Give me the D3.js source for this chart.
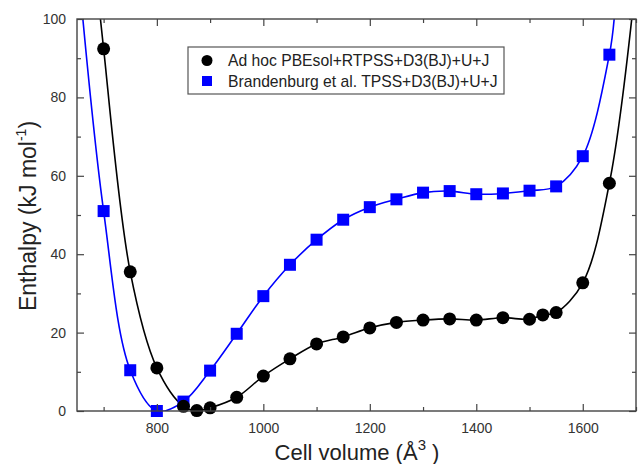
<!DOCTYPE html>
<html>
<head>
<meta charset="utf-8">
<script src="https://cdn.jsdelivr.net/npm/d3@7"></script>
<style>
    body { margin: 0; background: #fff; }
    text { font-family: "Liberation Sans", Arial, sans-serif; }
</style>
</head>
<body>
<div id="chart"></div>
<script>
// data
var volume_adhoc = [700, 750, 800, 850, 875, 900, 950, 1000, 1050, 1100, 1150, 1200, 1250, 1300, 1350, 1400, 1450, 1500, 1525, 1550, 1600, 1650];
var enthalpy_adhoc = [92.4, 35.5, 11, 1.2, 0.1, 0.8, 3.5, 8.9, 13.3, 17.1, 18.9, 21.2, 22.6, 23.2, 23.5, 23.2, 23.8, 23.4, 24.5, 25.1, 32.7, 58.1];
var volume_brand = [700, 750, 800, 850, 900, 950, 1000, 1050, 1100, 1150, 1200, 1250, 1300, 1350, 1400, 1450, 1500, 1550, 1600, 1650];
var enthalpy_brand = [51, 10.4, 0, 2.4, 10.3, 19.7, 29.3, 37.3, 43.7, 48.8, 52, 54, 55.7, 56.1, 55.3, 55.5, 56.2, 57.3, 65, 90.9];
// where the fitted curves leave the frame at the top
var curve_ends_adhoc = [[694, 100], [1692, 100]];
var curve_ends_brand = [[661, 100], [1659, 100]];
var legend_labels = ["Ad hoc PBEsol+RTPSS+D3(BJ)+U+J", "Brandenburg et al. TPSS+D3(BJ)+U+J"];
var x_ticks = [800, 1000, 1200, 1400, 1600];
var x_minor = [700, 900, 1100, 1300, 1500, 1700];
var y_ticks = [0, 20, 40, 60, 80, 100];
var y_minor = [10, 30, 50, 70, 90];

var draw_chart = {
    width: 638,
    height: 464,
    margin: { left: 77, right: 2, top: 19, bottom: 53 },
    view: 0,
    g: 0,
    x: 0,
    y: 0,
    initialize: function() {
        var self = this;
        self.view = d3.select("#chart").append("svg")
            .attr("width", self.width)
            .attr("height", self.height);
        self.w = self.width - self.margin.left - self.margin.right;
        self.h = self.height - self.margin.top - self.margin.bottom;
        self.g = self.view.append("g")
            .attr("transform", "translate(" + self.margin.left + "," + self.margin.top + ")");
        self.x = d3.scaleLinear().domain([650, 1700]).range([0, self.w]);
        self.y = d3.scaleLinear().domain([0, 100]).range([self.h, 0]);
    },
    draw_axes: function() {
        var self = this;
        var col = "#444";
        var bottom = self.g.append("g").attr("transform", "translate(0," + self.h + ")")
            .call(d3.axisBottom(self.x).tickValues(x_ticks).tickSize(-7).tickPadding(12).tickFormat(d3.format("d")));
        var bottomMinor = self.g.append("g").attr("transform", "translate(0," + self.h + ")")
            .call(d3.axisBottom(self.x).tickValues(x_minor).tickSize(-4).tickFormat(""));
        var top = self.g.append("g")
            .call(d3.axisTop(self.x).tickValues(x_ticks).tickSize(-7).tickFormat(""));
        var topMinor = self.g.append("g")
            .call(d3.axisTop(self.x).tickValues(x_minor).tickSize(-4).tickFormat(""));
        var left = self.g.append("g")
            .call(d3.axisLeft(self.y).tickValues(y_ticks).tickSize(-7).tickPadding(11));
        var leftMinor = self.g.append("g")
            .call(d3.axisLeft(self.y).tickValues(y_minor).tickSize(-4).tickFormat(""));
        var right = self.g.append("g").attr("transform", "translate(" + self.w + ",0)")
            .call(d3.axisRight(self.y).tickValues(y_ticks).tickSize(-7).tickFormat(""));
        var rightMinor = self.g.append("g").attr("transform", "translate(" + self.w + ",0)")
            .call(d3.axisRight(self.y).tickValues(y_minor).tickSize(-4).tickFormat(""));
        [bottom, bottomMinor, top, topMinor, left, leftMinor, right, rightMinor].forEach(function(a) {
            a.select(".domain").remove();
            a.selectAll("line").attr("stroke", col).attr("stroke-width", 1.2);
            a.selectAll("text").attr("fill", "#333").style("font-size", "14px")
                .style("font-family", "Liberation Sans, Arial, sans-serif");
        });
        self.g.append("rect")
            .attr("width", self.w).attr("height", self.h)
            .attr("fill", "none").attr("stroke", col).attr("stroke-width", 1.4);

        var xt = self.view.append("text")
            .attr("x", 357)
            .attr("y", 460)
            .attr("text-anchor", "middle")
            .attr("fill", "#222")
            .style("font-size", "22px");
        xt.append("tspan").text("Cell volume (Å");
        xt.append("tspan").attr("dy", -10).style("font-size", "15px").text("3");
        xt.append("tspan").attr("dy", 10).text(" )");

        var yt = self.view.append("text")
            .attr("transform", "translate(36,216) rotate(-90)")
            .attr("text-anchor", "middle")
            .attr("fill", "#222")
            .style("font-size", "23px");
        yt.append("tspan").text("Enthalpy (kJ mol");
        yt.append("tspan").attr("dy", -10).style("font-size", "14px").text("-1");
        yt.append("tspan").attr("dy", 10).text(")");
    },
    draw_series: function() {
        var self = this;
        self.view.append("defs").append("clipPath").attr("id", "clip")
            .append("rect").attr("width", self.w).attr("height", self.h);

        var adhoc = volume_adhoc.map(function(v, i) { return [v, enthalpy_adhoc[i]]; });
        var brand = volume_brand.map(function(v, i) { return [v, enthalpy_brand[i]]; });

        var line = d3.line()
            .x(function(d) { return self.x(d[0]); })
            .y(function(d) { return self.y(d[1]); })
            .curve(d3.curveCatmullRom.alpha(0.5));

        var curves = self.g.append("g").attr("clip-path", "url(#clip)");
        curves.append("path")
            .datum([curve_ends_brand[0]].concat(brand, [curve_ends_brand[1]]))
            .attr("d", line)
            .attr("fill", "none").attr("stroke", "#0000ff").attr("stroke-width", 1.6);
        curves.append("path")
            .datum([curve_ends_adhoc[0]].concat(adhoc, [curve_ends_adhoc[1]]))
            .attr("d", line)
            .attr("fill", "none").attr("stroke", "#000").attr("stroke-width", 1.6);

        self.g.append("g").selectAll("rect")
            .data(brand)
            .enter().append("rect")
            .attr("x", function(d) { return self.x(d[0]) - 6; })
            .attr("y", function(d) { return self.y(d[1]) - 6; })
            .attr("width", 12).attr("height", 12)
            .attr("fill", "#0000ff");
        self.g.append("g").selectAll("circle")
            .data(adhoc)
            .enter().append("circle")
            .attr("cx", function(d) { return self.x(d[0]); })
            .attr("cy", function(d) { return self.y(d[1]); })
            .attr("r", 6.5)
            .attr("fill", "#000");
    },
    draw_legend: function() {
        var self = this;
        var lg = self.view.append("g").attr("transform", "translate(188,47)");
        lg.append("rect")
            .attr("width", 316).attr("height", 47)
            .attr("fill", "#fff").attr("stroke", "#555").attr("stroke-width", 1.2);
        lg.append("circle").attr("cx", 19).attr("cy", 13.5).attr("r", 5.5).attr("fill", "#000");
        lg.append("rect").attr("x", 14).attr("y", 29).attr("width", 10).attr("height", 10).attr("fill", "#0000ff");
        lg.selectAll("text.lab")
            .data(legend_labels)
            .enter().append("text")
            .attr("class", "lab")
            .attr("x", 40)
            .attr("y", function(d, i) { return 19 + i * 21; })
            .attr("fill", "#222")
            .style("font-size", "15.7px")
            .text(function(d) { return d; });
    }
};

draw_chart.initialize();
draw_chart.draw_series();
draw_chart.draw_axes();
draw_chart.draw_legend();
</script>
</body>
</html>
